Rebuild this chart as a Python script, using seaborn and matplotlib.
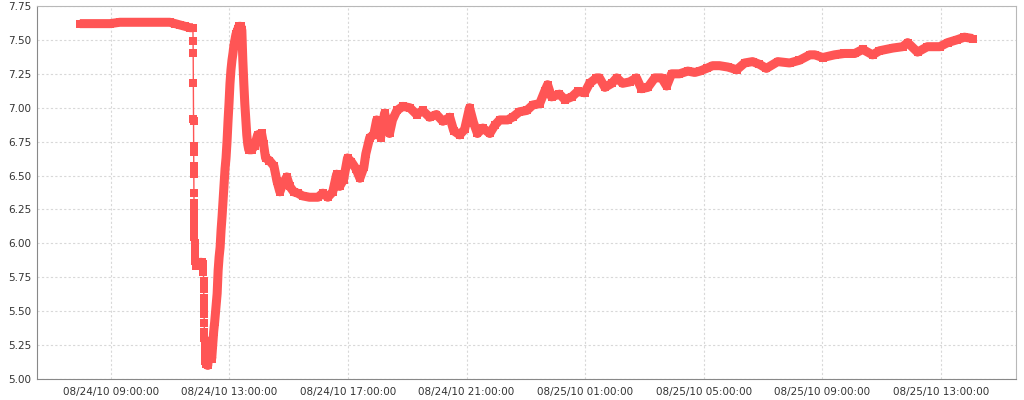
import numpy as np
import pandas as pd
import matplotlib
matplotlib.use("Agg")
import matplotlib.pyplot as plt
import matplotlib.dates as mdates
import seaborn as sns

# sample times ("day hh:mm[:ss]" in Aug 2010) and readings
times = [
    "24 07:57", "24 08:17", "24 08:38", "24 08:58", "24 09:18", "24 09:38", "24 09:59",
    "24 10:19", "24 10:39", "24 10:59", "24 11:10", "24 11:20", "24 11:30", "24 11:40",
    "24 11:46",
    # first fast fall
    "24 11:46:15", "24 11:46:30", "24 11:46:45", "24 11:47:00", "24 11:47:10",
    "24 11:47:20", "24 11:47:30", "24 11:47:40", "24 11:47:50", "24 11:48:00",
    "24 11:48:10", "24 11:48:20", "24 11:48:30", "24 11:48:40", "24 11:48:50",
    "24 11:49:00", "24 11:49:10", "24 11:49:20", "24 11:49:30", "24 11:49:45",
    "24 11:52", "24 11:56", "24 12:00", "24 12:04", "24 12:07",
    # second fast fall
    "24 12:07:15", "24 12:07:30", "24 12:07:45", "24 12:08:00", "24 12:08:15",
    "24 12:08:30", "24 12:08:45", "24 12:09:00", "24 12:09:15", "24 12:09:30",
    "24 12:09:45", "24 12:10:00", "24 12:10:15",
    "24 12:12", "24 12:16", "24 12:18", "24 12:20", "24 12:22", "24 12:24", "24 12:26",
    "24 12:28", "24 12:30", "24 12:33", "24 12:35", "24 12:37", "24 12:39", "24 12:41",
    "24 12:43", "24 12:45", "24 12:47", "24 12:49", "24 12:51", "24 12:53", "24 12:55",
    "24 12:57", "24 12:59", "24 13:01", "24 13:03", "24 13:05", "24 13:07", "24 13:09",
    "24 13:11", "24 13:13", "24 13:15", "24 13:17", "24 13:19", "24 13:21", "24 13:23",
    "24 13:25", "24 13:27", "24 13:29", "24 13:31", "24 13:33", "24 13:35", "24 13:37",
    "24 13:39", "24 13:45", "24 13:51", "24 13:57", "24 14:05", "24 14:09", "24 14:13",
    "24 14:21", "24 14:30", "24 14:36", "24 14:42", "24 14:48", "24 14:56", "24 15:02",
    "24 15:10", "24 15:18", "24 15:28", "24 15:42", "24 15:59", "24 16:09", "24 16:19",
    "24 16:29", "24 16:37", "24 16:43", "24 16:51", "24 16:59", "24 17:07", "24 17:16",
    "24 17:24", "24 17:32", "24 17:36", "24 17:44", "24 17:52", "24 17:58", "24 18:06",
    "24 18:14", "24 18:24", "24 18:30", "24 18:39", "24 18:51", "24 19:05", "24 19:19",
    "24 19:31", "24 19:45", "24 19:59", "24 20:12", "24 20:26", "24 20:34", "24 20:46",
    "24 20:56", "24 21:06", "24 21:14", "24 21:22", "24 21:33", "24 21:47", "24 21:57",
    "24 22:07", "24 22:23", "24 22:33", "24 22:47", "24 23:02", "24 23:14", "24 23:28",
    "24 23:38", "24 23:44", "24 23:52",
    "25 00:08", "25 00:19", "25 00:33", "25 00:45", "25 00:59", "25 01:09", "25 01:23",
    "25 01:29", "25 01:40", "25 01:54", "25 02:04", "25 02:16", "25 02:30", "25 02:44",
    "25 02:54", "25 03:07", "25 03:21", "25 03:35", "25 03:45", "25 03:55", "25 04:11",
    "25 04:28", "25 04:42", "25 04:52", "25 05:06", "25 05:18", "25 05:32", "25 05:49",
    "25 06:07", "25 06:23", "25 06:39", "25 06:53", "25 07:07", "25 07:30", "25 07:54",
    "25 08:14", "25 08:35", "25 08:45", "25 09:01", "25 09:25", "25 09:45", "25 10:06",
    "25 10:22", "25 10:42", "25 10:56", "25 11:23", "25 11:43", "25 11:53", "25 12:13",
    "25 12:33", "25 12:58", "25 13:14", "25 13:32", "25 13:48", "25 14:05",
]

values = [
    7.62, 7.62, 7.62, 7.62, 7.63, 7.63, 7.63,
    7.63, 7.63, 7.63, 7.62, 7.61, 7.60, 7.59,
    7.59,
    7.49, 7.40, 7.18, 6.92, 6.90,
    6.72, 6.67, 6.57, 6.51, 6.37,
    6.30, 6.25, 6.20, 6.15, 6.10,
    6.05, 6.00, 5.95, 5.90, 5.87,
    5.83, 5.84, 5.86, 5.86, 5.85,
    5.79, 5.72, 5.66, 5.60, 5.54,
    5.48, 5.41, 5.35, 5.30, 5.25,
    5.20, 5.16, 5.13,
    5.11, 5.10, 5.20, 5.28, 5.20, 5.15, 5.25,
    5.35, 5.42, 5.55, 5.63, 5.80, 5.90, 5.97,
    6.10, 6.20, 6.32, 6.45, 6.55, 6.63, 6.75,
    6.90, 7.03, 7.18, 7.28, 7.35, 7.40, 7.46,
    7.50, 7.54, 7.56, 7.58, 7.60, 7.60, 7.60,
    7.57, 7.35, 7.18, 7.03, 6.92, 6.80, 6.73,
    6.69, 6.69, 6.72, 6.80, 6.81, 6.73, 6.63,
    6.61, 6.57, 6.46, 6.38, 6.44, 6.49, 6.42,
    6.38, 6.37, 6.35, 6.34, 6.34, 6.37, 6.34,
    6.38, 6.51, 6.42, 6.47, 6.63, 6.60, 6.55,
    6.48, 6.56, 6.66, 6.78, 6.80, 6.91, 6.78,
    6.96, 6.81, 6.91, 6.98, 7.01, 7.00, 6.95,
    6.98, 6.93, 6.95, 6.90, 6.93, 6.83, 6.80,
    6.84, 7.00, 6.89, 6.81, 6.85, 6.81, 6.87,
    6.91, 6.91, 6.93, 6.97, 6.98, 7.02, 7.03,
    7.12, 7.17, 7.08,
    7.10, 7.06, 7.08, 7.12, 7.11, 7.18, 7.22,
    7.22, 7.15, 7.18, 7.22, 7.18, 7.19, 7.22,
    7.14, 7.15, 7.22, 7.22, 7.16, 7.25, 7.25,
    7.27, 7.26, 7.27, 7.29, 7.31, 7.31, 7.30,
    7.28, 7.33, 7.34, 7.32, 7.29, 7.34, 7.33,
    7.35, 7.39, 7.39, 7.37, 7.39, 7.40, 7.40,
    7.43, 7.39, 7.42, 7.44, 7.45, 7.48, 7.41,
    7.45, 7.45, 7.48, 7.50, 7.52, 7.51,
]

y_ticks = [5.00, 5.25, 5.50, 5.75, 6.00, 6.25, 6.50, 6.75, 7.00, 7.25, 7.50, 7.75]

df = pd.DataFrame({
    "time": pd.to_datetime(["2010-08-" + t for t in times], format="ISO8601"),
    "value": values,
})
# samples taken seconds apart (the two falls) are only joined by a thin line
fast = df["time"].diff() < pd.Timedelta(seconds=30)
df["run"] = fast.cumsum()

sns.set_style("white")
fig, ax = plt.subplots(figsize=(10.24, 4), dpi=100)
fig.subplots_adjust(left=0.036, right=0.992, top=0.985, bottom=0.0525)

red = "#ff5555"
sns.lineplot(data=df[~fast], x="time", y="value", units="run", estimator=None,
             color=red, linewidth=6.5, solid_joinstyle="round",
             solid_capstyle="butt", ax=ax)
sns.lineplot(data=df, x="time", y="value", estimator=None, color=red,
             linewidth=1, marker="s", markersize=6, markeredgewidth=0, ax=ax)

ax.set_xlim(pd.Timestamp("2010-08-24 06:30"), pd.Timestamp("2010-08-25 15:32"))
ax.set_ylim(5.0, 7.75)
ax.set_yticks(y_ticks)
ax.yaxis.set_major_formatter(plt.FuncFormatter(lambda v, _: f"{v:.2f}"))
ax.xaxis.set_major_locator(mdates.HourLocator(byhour=[1, 5, 9, 13, 17, 21]))
ax.xaxis.set_major_formatter(mdates.DateFormatter("%m/%d/%y %H:%M:%S"))

ax.set_xlabel("")
ax.set_ylabel("")
ax.set_axisbelow(True)
ax.grid(True, color="#d8d8d8", linestyle=(0, (2, 2)), linewidth=0.8)

for side in ["left", "bottom"]:
    ax.spines[side].set_color("#888888")
for side in ["top", "right"]:
    ax.spines[side].set_color("#b8b8b8")
ax.tick_params(axis="both", labelsize=7.5, colors="#333333")
ax.tick_params(axis="x", length=3, color="#888888", pad=3)
ax.tick_params(axis="y", length=2, color="#888888", pad=2)

plt.savefig("out.png", dpi=100)
